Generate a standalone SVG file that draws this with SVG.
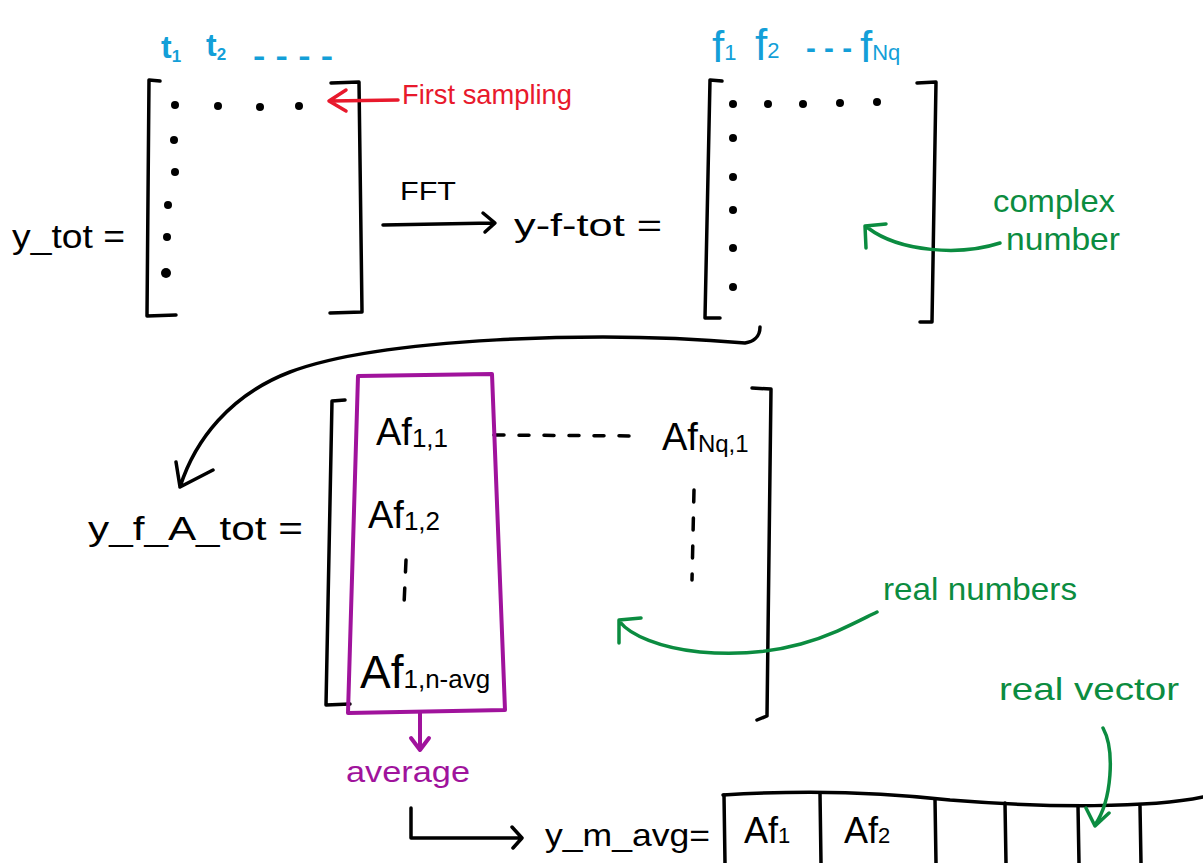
<svg xmlns="http://www.w3.org/2000/svg" width="1203" height="863" viewBox="0 0 1203 863">
<style>
.ink{fill:none;stroke:#000;stroke-width:3.5;stroke-linecap:round;stroke-linejoin:round}
.g{fill:none;stroke:#0b8c40;stroke-width:3.5;stroke-linecap:round;stroke-linejoin:round}
.m{fill:none;stroke:#a0139c;stroke-width:4;stroke-linecap:round;stroke-linejoin:round}
.r{fill:none;stroke:#e8192c;stroke-width:3.5;stroke-linecap:round;stroke-linejoin:round}
.t{font-family:"Liberation Sans",Arial,sans-serif;fill:#000}
.tg{font-family:"Liberation Sans",Arial,sans-serif;fill:#0b8c40}
.tb{font-family:"Liberation Sans",Arial,sans-serif;fill:#139fd8}
.tr{font-family:"Liberation Sans",Arial,sans-serif;fill:#e8192c}
.tm{font-family:"Liberation Sans",Arial,sans-serif;fill:#a0139c}
.dot{fill:#000}
</style>
<rect width="1203" height="863" fill="#fff"/>

<g id="matrix-ytot">
  <text class="t" x="12" y="248" font-size="34" textLength="113" lengthAdjust="spacingAndGlyphs">y_tot =</text>
  <path class="ink" d="M160,81 L149,80 L147,316 L176,315"/>
  <path class="ink" d="M331,83 L359,82 L362,312 L330,313"/>
  <circle class="dot" cx="175" cy="105" r="4"/>
  <circle class="dot" cx="218" cy="106" r="4"/>
  <circle class="dot" cx="260" cy="107" r="4"/>
  <circle class="dot" cx="299" cy="106" r="4"/>
  <circle class="dot" cx="174" cy="140" r="4"/>
  <circle class="dot" cx="175" cy="172" r="4"/>
  <circle class="dot" cx="168" cy="205" r="4"/>
  <circle class="dot" cx="167" cy="237" r="4"/>
  <circle class="dot" cx="166" cy="273" r="5"/>
</g>

<g id="time-labels">
  <text class="tb" x="161" y="58" font-size="32" font-weight="bold">t<tspan font-size="17" dy="4">1</tspan></text>
  <text class="tb" x="206" y="56" font-size="32" font-weight="bold">t<tspan font-size="17" dy="4">2</tspan></text>
  <text class="tb" x="253" y="66" font-size="30" font-weight="bold" textLength="80" lengthAdjust="spacingAndGlyphs">- - - -</text>
</g>

<g id="first-sampling">
  <text class="tr" x="402" y="104" font-size="28" textLength="170" lengthAdjust="spacingAndGlyphs">First sampling</text>
</g>

<g id="fft">
  <text class="t" x="400" y="200" font-size="26" textLength="56" lengthAdjust="spacingAndGlyphs">FFT</text>
</g>

<g id="matrix-yftot">
  <text class="t" x="514" y="236" font-size="32" textLength="148" lengthAdjust="spacingAndGlyphs">y-f-tot =</text>
  <path class="ink" d="M722,81 L710,80 L705,318 L720,318"/>
  <path class="ink" d="M917,83 L936,82 L932,322 L920,322"/>
  <circle class="dot" cx="733" cy="104" r="4"/>
  <circle class="dot" cx="768" cy="104" r="4"/>
  <circle class="dot" cx="803" cy="104" r="4"/>
  <circle class="dot" cx="840" cy="103" r="4"/>
  <circle class="dot" cx="877" cy="102" r="4"/>
  <circle class="dot" cx="733" cy="138" r="4"/>
  <circle class="dot" cx="733" cy="177" r="4"/>
  <circle class="dot" cx="733" cy="210" r="4"/>
  <circle class="dot" cx="733" cy="248" r="4"/>
  <circle class="dot" cx="733" cy="287" r="4"/>
</g>

<g id="freq-labels">
  <text class="tb" x="712" y="62" font-size="44">f<tspan font-size="22" dy="-2">1</tspan></text>
  <text class="tb" x="755" y="60" font-size="44">f<tspan font-size="22" dy="-2">2</tspan></text>
  <text class="tb" x="806" y="58" font-size="30" font-weight="bold" textLength="46" lengthAdjust="spacingAndGlyphs">- - -</text>
  <text class="tb" x="860" y="62" font-size="44">f<tspan font-size="22" dy="-2">Nq</tspan></text>
</g>

<g id="complex-number">
  <text class="tg" x="993" y="212" font-size="32" textLength="122" lengthAdjust="spacingAndGlyphs">complex</text>
  <text class="tg" x="1006" y="250" font-size="32" textLength="114" lengthAdjust="spacingAndGlyphs">number</text>
</g>

<g id="matrix-yfAtot">
  <text class="t" x="88" y="540" font-size="34" textLength="215" lengthAdjust="spacingAndGlyphs">y_f_A_tot =</text>
  <path class="ink" d="M345,400 L332,401 L326,705 L350,704"/>
  <path class="ink" d="M752,388 L771,389 L767,716 L757,720"/>
  <text class="t" x="376" y="445" font-size="38">Af<tspan font-size="26" dy="2">1,1</tspan></text>
  <path class="ink" d="M494,435 L640,436" stroke-dasharray="10 15"/>
  <text class="t" x="662" y="450" font-size="38">Af<tspan font-size="24" dy="2">Nq,1</tspan></text>
  <path class="ink" d="M694,490 L692,580" stroke-dasharray="12 16"/>
  <text class="t" x="368" y="528" font-size="38">Af<tspan font-size="26" dy="2">1,2</tspan></text>
  <path class="ink" d="M406,560 L404,605" stroke-dasharray="12 16"/>
  <text class="t" x="360" y="688" font-size="46">Af<tspan font-size="26" dy="0">1,n-avg</tspan></text>
</g>

<g id="average-box">
  <path class="m" d="M358,376 L492,374 L505,710 L348,713 Z"/>
  <text class="tm" x="346" y="782" font-size="30" textLength="124" lengthAdjust="spacingAndGlyphs">average</text>
</g>

<g id="real-numbers">
  <text class="tg" x="883" y="600" font-size="32" textLength="194" lengthAdjust="spacingAndGlyphs">real numbers</text>
</g>

<g id="real-vector">
  <text class="tg" x="999" y="700" font-size="32" textLength="180" lengthAdjust="spacingAndGlyphs">real vector</text>
</g>

<g id="vector-ymavg">
  <text class="t" x="545" y="846" font-size="32" textLength="165" lengthAdjust="spacingAndGlyphs">y_m_avg=</text>
  <path class="ink" d="M723,795 C800,790 880,792 950,800 C1050,808 1150,808 1203,797"/>
  <path class="ink" d="M724,795 L725,863 M820,793 L821,863 M935,799 L936,863 M1005,803 L1006,863 M1078,806 L1079,863 M1140,806 L1141,863"/>
  <text class="t" x="744" y="843" font-size="36">Af<tspan font-size="22">1</tspan></text>
  <text class="t" x="844" y="843" font-size="36">Af<tspan font-size="22">2</tspan></text>
</g>

<g id="connectors">
  <path class="r" d="M398,100 L330,101 M346,90 L329,101 L346,111"/>
  <path class="ink" d="M383,225 L493,223 M483,213 L495,223 L485,232"/>
  <path class="g" d="M1000,243 C960,256 900,252 868,228 M866,248 L865,226 L886,224"/>
  <path class="ink" d="M760,327 C760,338 752,342 745,343 C600,330 380,338 290,372 C230,395 195,440 180,487 M176,462 L180,487 L213,470"/>
  <path class="g" d="M877,612 C840,630 790,660 700,652 C660,648 630,635 620,622 M619,643 L619,620 L641,618"/>
  <path class="g" d="M1103,728 C1115,750 1112,800 1095,825 M1086,808 L1095,826 L1109,813"/>
  <path class="m" d="M420,713 L420,748 M411,738 L420,750 L429,738"/>
  <path class="ink" d="M411,808 L411,838 L520,838 M512,827 L522,838 L513,848"/>
</g>
</svg>
